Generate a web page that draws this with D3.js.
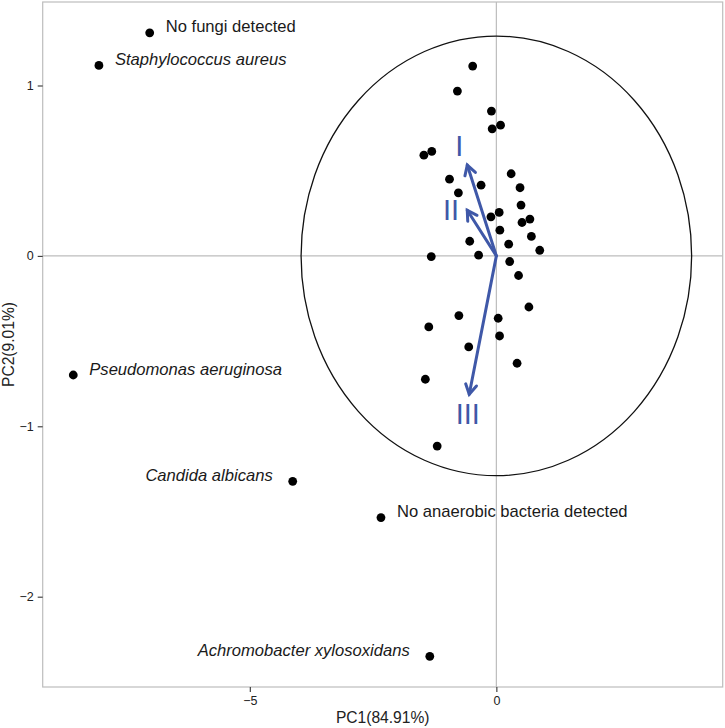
<!DOCTYPE html>
<html>
<head>
<meta charset="utf-8">
<script src="https://cdn.jsdelivr.net/npm/d3@7"></script>
<style>
  html, body { margin: 0; padding: 0; background: #fff; }
  svg { display: block; }
  text { font-family: "Liberation Sans", Arial, Helvetica, sans-serif; }
</style>
</head>
<body>
<svg id="chart" width="725" height="728"></svg>
<script>
// ---- data ----
const sampleX = [-0.48, -0.79, -0.10, -0.085, 0.085, -1.47, -1.31, -0.95, -0.31, -0.77,
                 0.30, 0.48, 0.50, 0.68, 0.52, 0.71, 0.88, -0.11, 0.057, 0.071,
                 0.25, -0.54, -0.36, -1.32, 0.27, 0.45, 0.66, -0.76, 0.037, -1.37,
                 0.065, -0.56, 0.42, -1.44, -1.20];
const sampleY = [1.114, 0.967, 0.850, 0.746, 0.767, 0.591, 0.613, 0.450, 0.415, 0.370,
                 0.482, 0.400, 0.298, 0.216, 0.196, 0.114, 0.033, 0.229, 0.255, 0.151,
                 0.069, 0.086, 0.004, -0.004, -0.033, -0.115, -0.300, -0.350, -0.366, -0.417,
                 -0.470, -0.534, -0.630, -0.724, -1.116];

const namedLabels = ["No fungi detected", "Staphylococcus aureus", "Pseudomonas aeruginosa",
                     "Candida albicans", "No anaerobic bacteria detected", "Achromobacter xylosoxidans"];
const namedX = [-7.03, -8.06, -8.58, -4.13, -2.34, -1.35];
const namedY = [1.309, 1.118, -0.699, -1.323, -1.536, -2.350];
const namedItalic = [false, true, true, true, false, true];
const namedSide = ["right", "right", "right", "left", "right", "left"];

const arrowLabels = ["I", "II", "III"];
const arrowX = [-0.59, -0.59, -0.55];
const arrowY = [0.533, 0.268, -0.812];
const arrowLabelX = [-0.75, -0.92, -0.58];
const arrowLabelY = [0.643, 0.268, -0.93];

const circleRX = 3.96;
const circleRY = 1.29;

const xTicks = [-5, 0];
const yTicks = [-2, -1, 0, 1];
const xTitle = "PC1(84.91%)";
const yTitle = "PC2(9.01%)";

// ---- layout ----
const svg = d3.select("#chart");
const panel = { left: 42.7, right: 722.7, top: 2, bottom: 687 };
const x = d3.scaleLinear().domain([-9.2, 4.59]).range([panel.left, panel.right]);
const y = d3.scaleLinear().domain([-2.53, 1.49]).range([panel.bottom, panel.top]);

const gridColor = "#bdbdbd";
const blue = "#3f58a8";

// zero lines
svg.append("line").attr("x1", x(0)).attr("x2", x(0)).attr("y1", panel.top).attr("y2", panel.bottom)
  .attr("stroke", gridColor).attr("stroke-width", 1.2);
svg.append("line").attr("y1", y(0)).attr("y2", y(0)).attr("x1", panel.left).attr("x2", panel.right)
  .attr("stroke", gridColor).attr("stroke-width", 1.2);

// panel border
svg.append("rect").attr("x", panel.left).attr("y", panel.top)
  .attr("width", panel.right - panel.left).attr("height", panel.bottom - panel.top)
  .attr("fill", "none").attr("stroke", gridColor).attr("stroke-width", 1.2);

// ellipse ("circle")
svg.append("ellipse").attr("cx", x(0)).attr("cy", y(0))
  .attr("rx", x(circleRX) - x(0)).attr("ry", y(0) - y(circleRY))
  .attr("fill", "none").attr("stroke", "#111").attr("stroke-width", 1.3);

// axes
const fmt = d3.format("d");
const xAxis = svg.append("g").attr("transform", `translate(0,${panel.bottom})`)
  .call(d3.axisBottom(x).tickValues(xTicks).tickSize(5).tickPadding(4).tickFormat(fmt));
const yAxis = svg.append("g").attr("transform", `translate(${panel.left},0)`)
  .call(d3.axisLeft(y).tickValues(yTicks).tickSize(5).tickPadding(4).tickFormat(fmt));
[xAxis, yAxis].forEach(g => {
  g.select(".domain").remove();
  g.selectAll(".tick line").attr("stroke", "#333").attr("stroke-width", 1.1);
  g.selectAll(".tick text").attr("fill", "#222").attr("font-size", 12.5)
    .style("font-family", "'Liberation Sans', Arial, sans-serif");
});

svg.append("text").attr("x", (panel.left + panel.right) / 2).attr("y", 723)
  .attr("text-anchor", "middle").attr("font-size", 15.6).attr("fill", "#222").text(xTitle);
svg.append("text").attr("transform", `translate(14,${(panel.top + panel.bottom) / 2}) rotate(-90)`)
  .attr("text-anchor", "middle").attr("font-size", 15.6).attr("fill", "#222").text(yTitle);

// arrows
const arrowsG = svg.append("g");
arrowX.forEach((ax, i) => {
  const x0 = x(0), y0 = y(0), x1 = x(ax), y1 = y(arrowY[i]);
  arrowsG.append("line").attr("x1", x0).attr("y1", y0).attr("x2", x1).attr("y2", y1)
    .attr("stroke", blue).attr("stroke-width", 3).attr("stroke-linecap", "round");
  const ang = Math.atan2(y1 - y0, x1 - x0);
  const L = 11, a = Math.PI / 6;
  const p1 = [x1 - L * Math.cos(ang - a), y1 - L * Math.sin(ang - a)];
  const p2 = [x1 - L * Math.cos(ang + a), y1 - L * Math.sin(ang + a)];
  arrowsG.append("path").attr("d", d3.line()([p1, [x1, y1], p2]))
    .attr("fill", "none").attr("stroke", blue).attr("stroke-width", 3)
    .attr("stroke-linecap", "round").attr("stroke-linejoin", "miter");
});
arrowLabels.forEach((t, i) => {
  svg.append("text").attr("x", x(arrowLabelX[i])).attr("y", y(arrowLabelY[i]))
    .attr("text-anchor", "middle").attr("dominant-baseline", "central")
    .attr("font-size", 29).attr("fill", blue).text(t);
});

// points
svg.append("g").selectAll("circle").data(sampleX.map((v, i) => [v, sampleY[i]]))
  .join("circle").attr("cx", d => x(d[0])).attr("cy", d => y(d[1])).attr("r", 4.4).attr("fill", "#000");
svg.append("g").selectAll("circle").data(namedX.map((v, i) => [v, namedY[i]]))
  .join("circle").attr("cx", d => x(d[0])).attr("cy", d => y(d[1])).attr("r", 4.4).attr("fill", "#000");

// labels
namedLabels.forEach((t, i) => {
  const px = x(namedX[i]), py = y(namedY[i]);
  const right = namedSide[i] === "right";
  svg.append("text")
    .attr("x", right ? px + 16 : px - 20)
    .attr("y", py - 6)
    .attr("text-anchor", right ? "start" : "end")
    .attr("dominant-baseline", "central")
    .attr("font-size", 16.6)
    .attr("font-style", namedItalic[i] ? "italic" : "normal")
    .attr("fill", "#1a1a1a")
    .text(t);
});
</script>
</body>
</html>
